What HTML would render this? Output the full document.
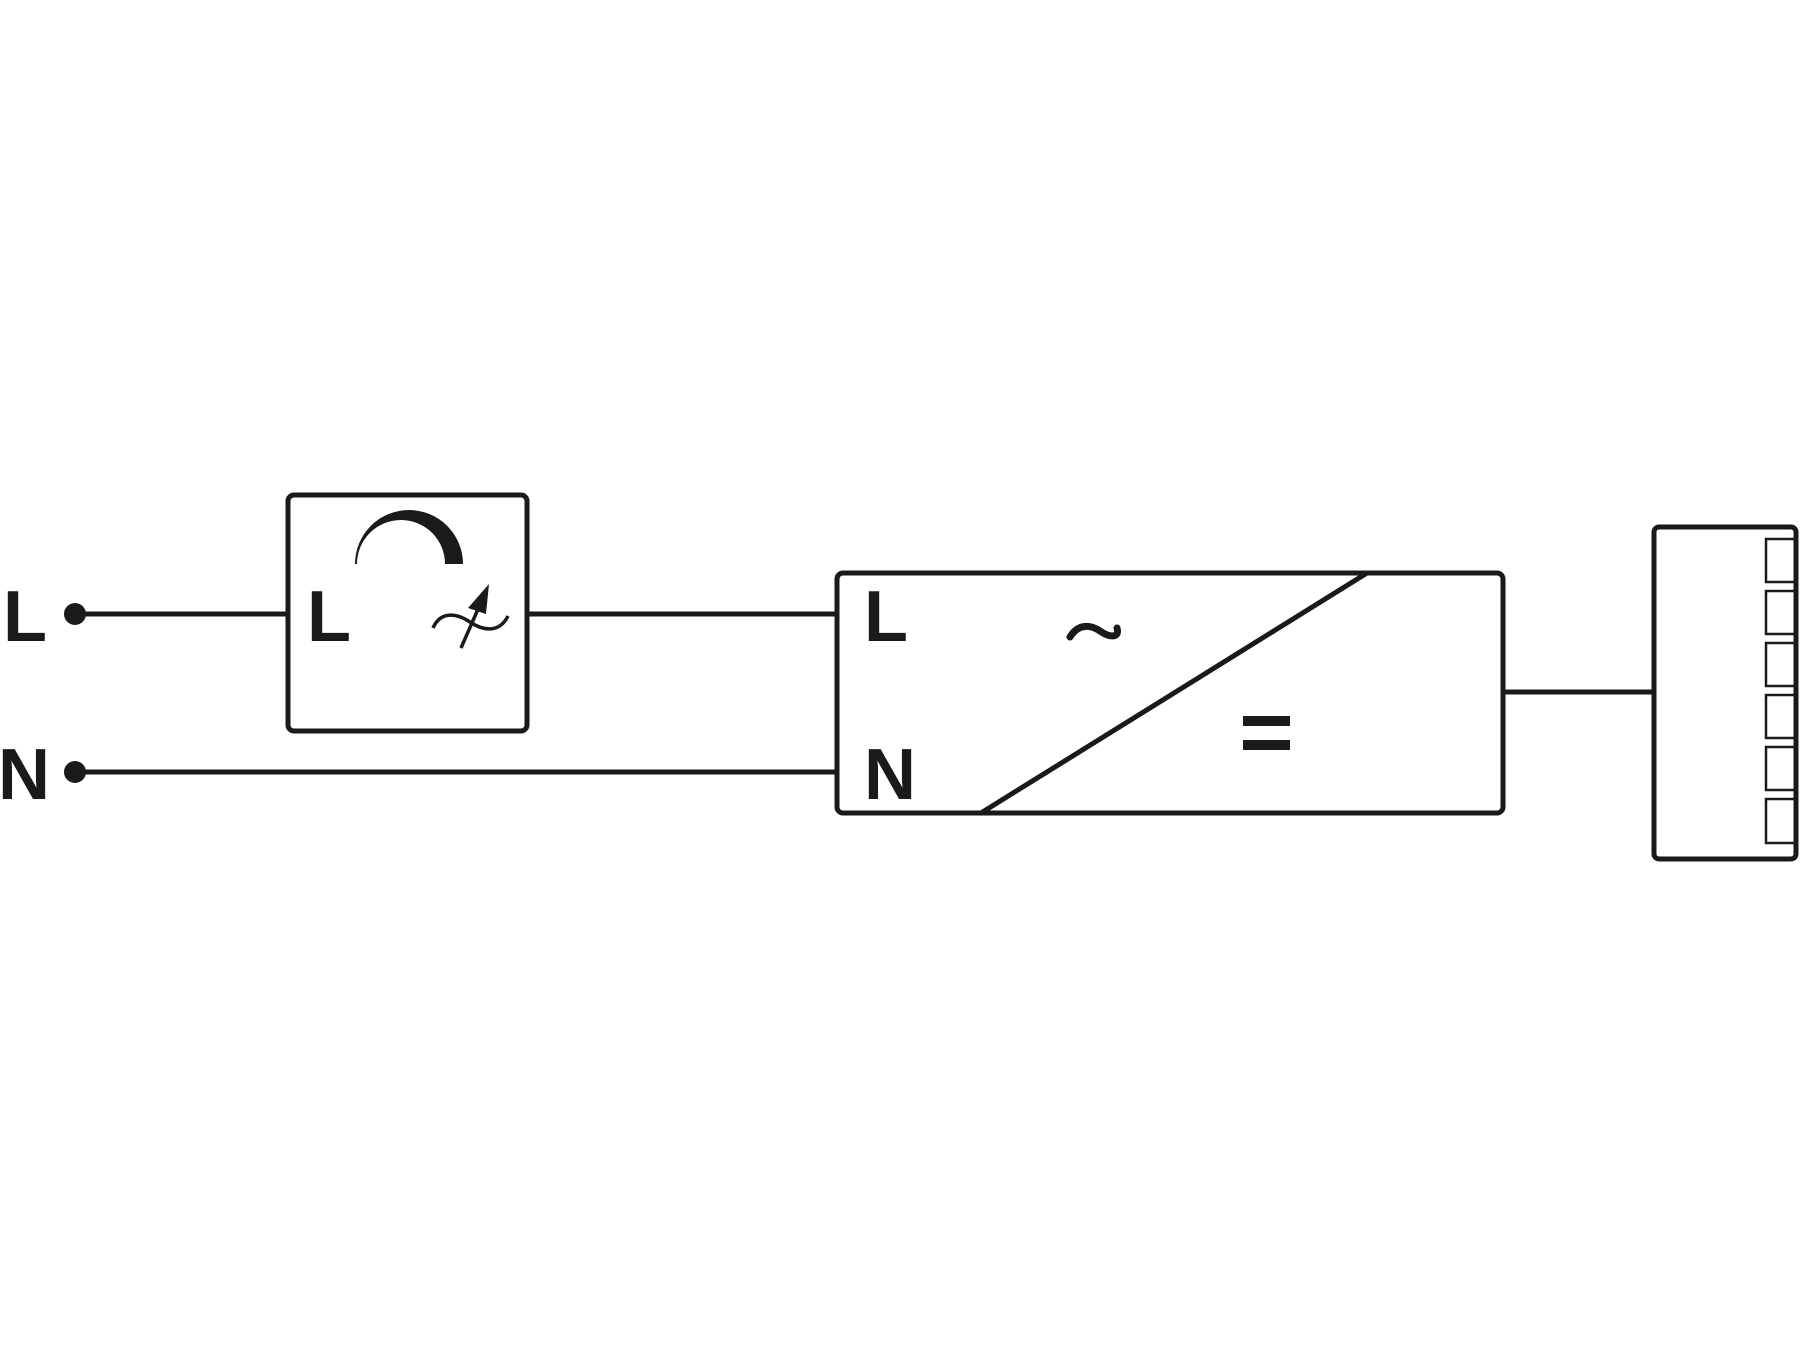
<!DOCTYPE html>
<html><head><style>html,body{margin:0;padding:0;background:#fff}</style></head>
<body>
<svg width="1800" height="1350" viewBox="0 0 1800 1350" xmlns="http://www.w3.org/2000/svg" font-family="Liberation Sans, sans-serif" font-weight="bold">
<g stroke="#1a1a1a" stroke-width="5" fill="none">
<line x1="75" y1="614" x2="288" y2="614"/>
<line x1="527" y1="614" x2="837" y2="614"/>
<line x1="75" y1="772" x2="837" y2="772"/>
<line x1="1503" y1="692" x2="1652" y2="692"/>
<rect x="288" y="495" width="239" height="236" rx="6"/>
<rect x="837" y="573" width="666" height="240" rx="6"/>
<line x1="981" y1="813" x2="1367" y2="573"/>
<rect x="1654" y="527" width="142" height="332" rx="5"/>
</g>
<g stroke="#1a1a1a" stroke-width="2.5" fill="none">
<rect x="1766" y="539" width="30" height="43"/>
<rect x="1766" y="591" width="30" height="43"/>
<rect x="1766" y="643" width="30" height="43"/>
<rect x="1766" y="695" width="30" height="43"/>
<rect x="1766" y="747" width="30" height="43"/>
<rect x="1766" y="799" width="30" height="44"/>
</g>
<circle cx="75" cy="614" r="11" fill="#1a1a1a"/>
<circle cx="75" cy="772" r="11" fill="#1a1a1a"/>
<path d="M355 564 A54 54 0 0 1 463 564 L445 564 A44 44 0 0 0 357 564 Z" fill="#1a1a1a"/>
<path d="M433 628 C440 612 455 612 470 622 C485 632 500 632 508 616" stroke="#1a1a1a" stroke-width="3.5" fill="none"/>
<line x1="461" y1="648" x2="482" y2="600" stroke="#1a1a1a" stroke-width="3.5"/>
<polygon points="489,584 468,608 486,614" fill="#1a1a1a"/>
<path d="M1070 637 C1078 624 1090 624 1100 631 C1110 638 1120 638 1117 628" stroke="#1a1a1a" stroke-width="7" fill="none" stroke-linecap="round"/>
<g fill="#1a1a1a" font-size="72">
<text x="3" y="641">L</text>
<text x="-2" y="799">N</text>
<text x="307" y="641">L</text>
<text x="864" y="641">L</text>
<text x="864" y="799">N</text>
</g>
<rect x="1243" y="716" width="47" height="10" fill="#1a1a1a"/>
<rect x="1243" y="740" width="47" height="10" fill="#1a1a1a"/>
</svg>
</body></html>
